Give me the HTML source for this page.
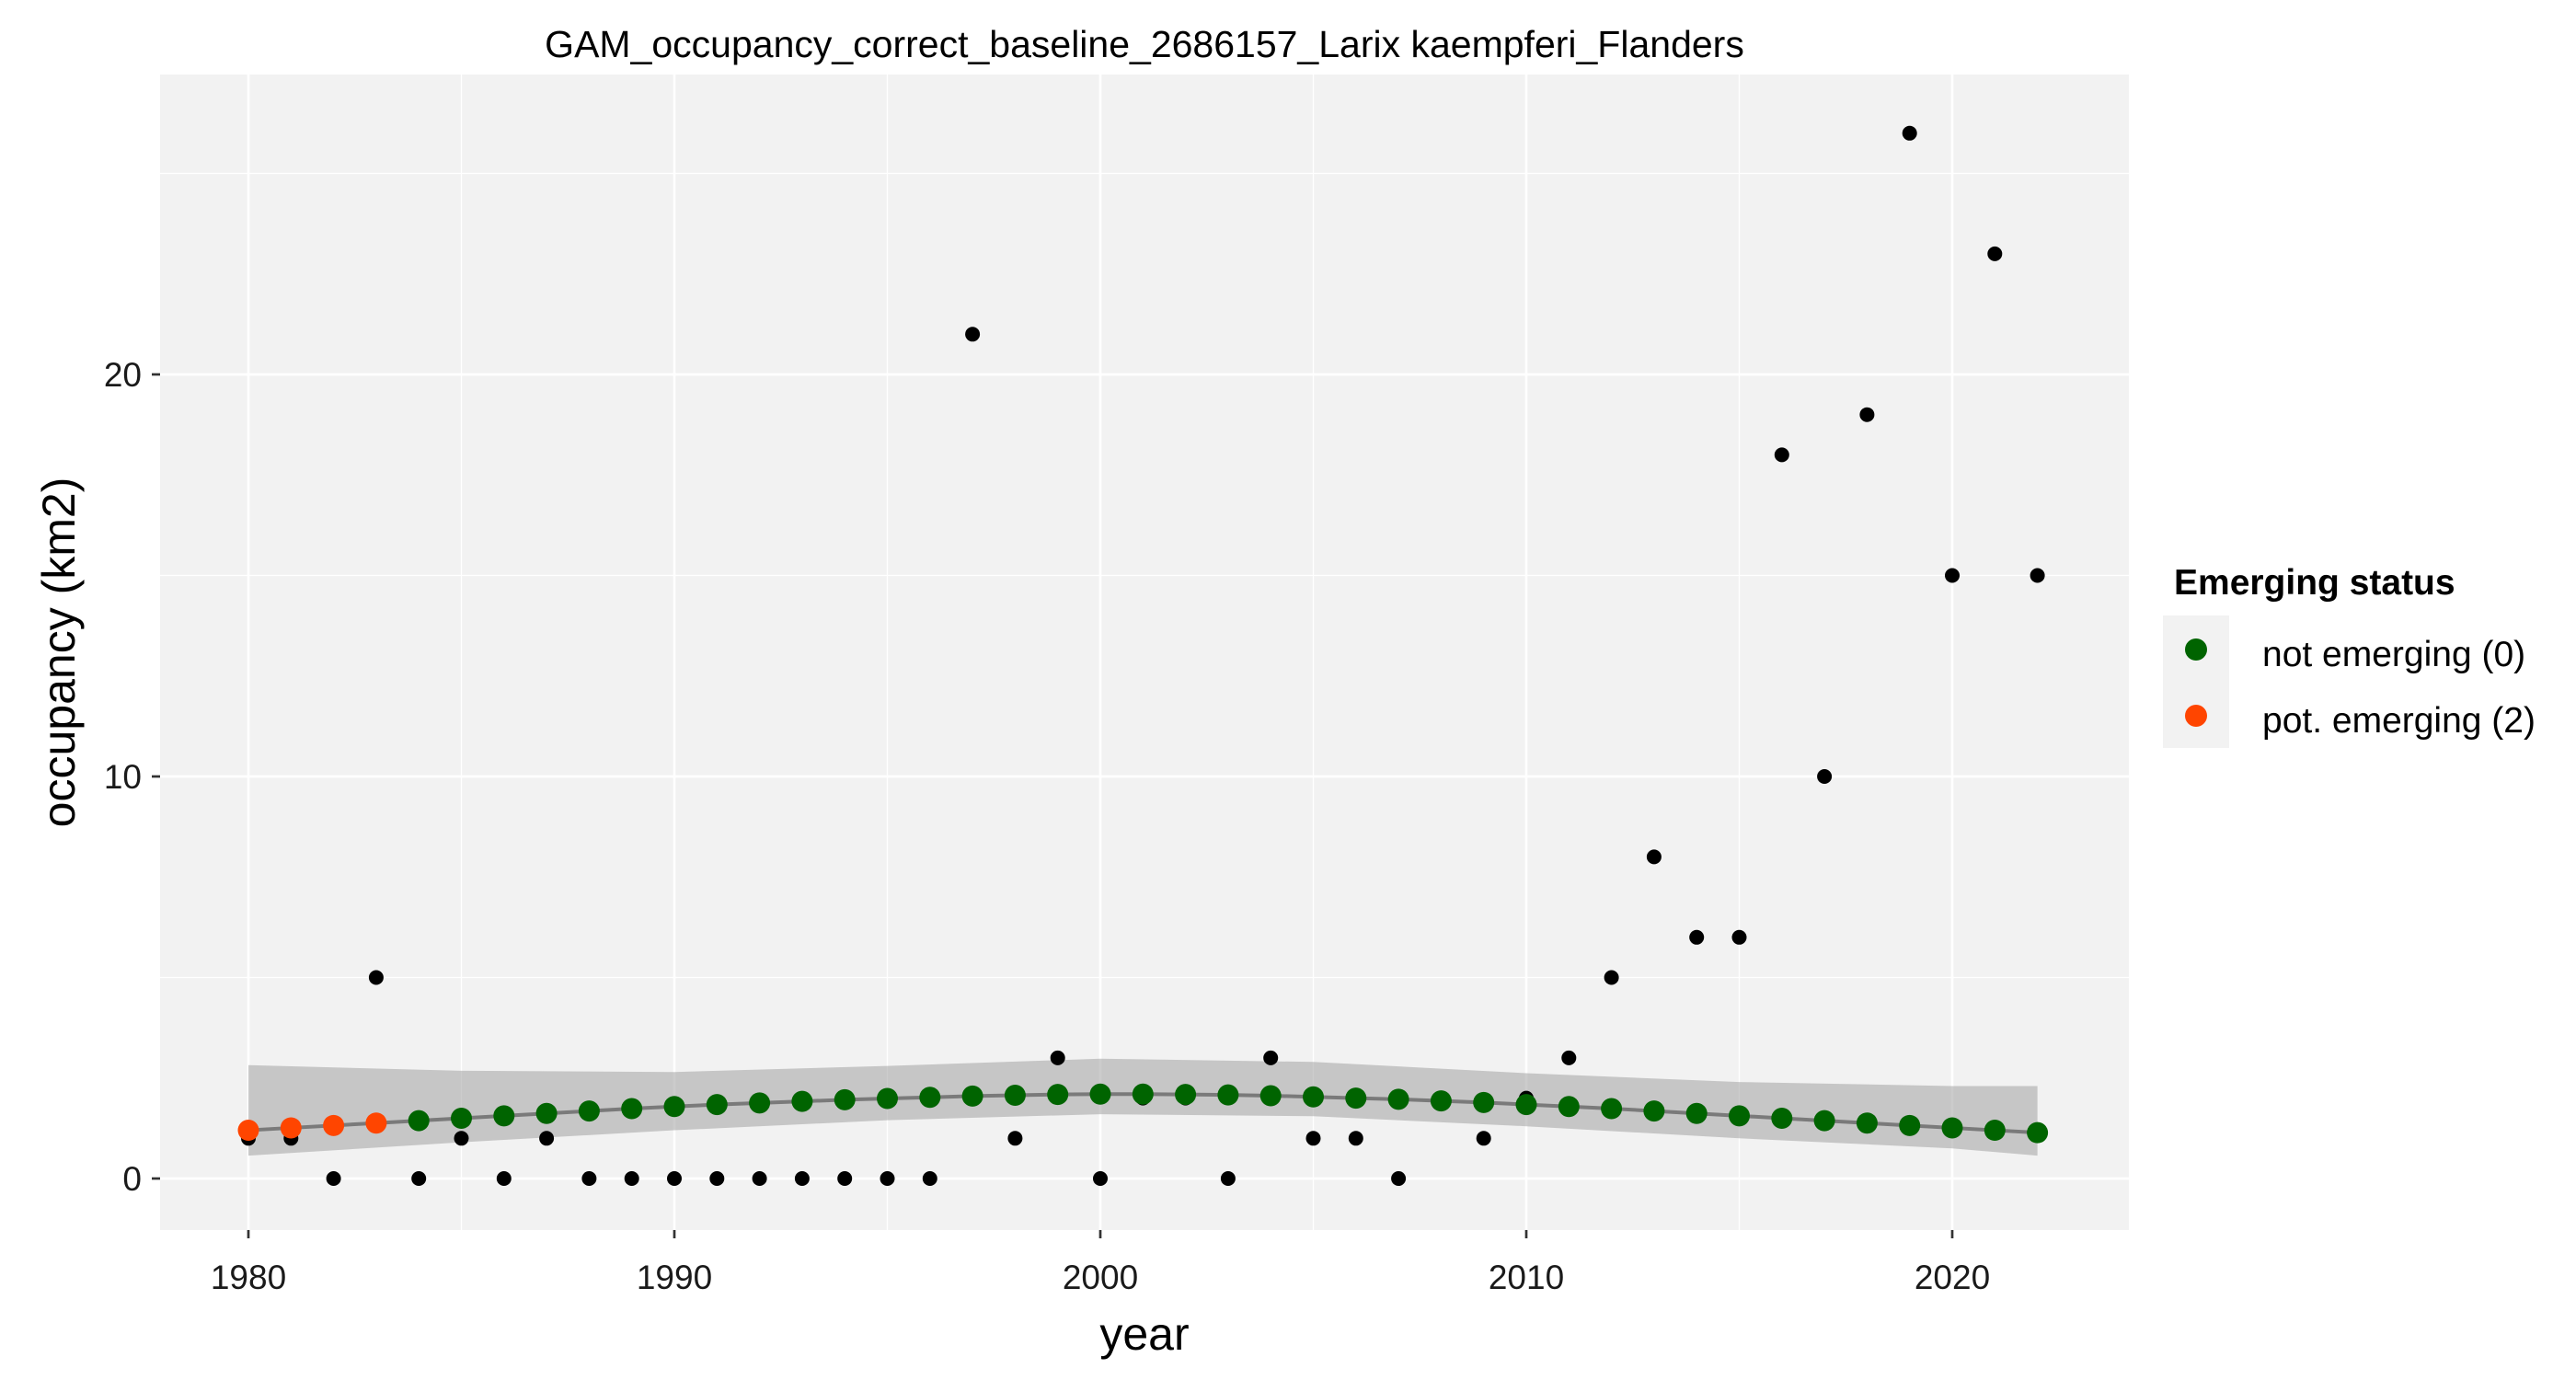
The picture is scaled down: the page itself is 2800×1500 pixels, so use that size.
<!DOCTYPE html>
<html><head><meta charset="utf-8"><style>
html,body{margin:0;padding:0;background:#fff}
svg{display:block;font-family:"Liberation Sans",Arial,sans-serif}
</style></head><body>
<svg id="chart" width="2800" height="1500" viewBox="0 0 2800 1500">
<text x="1244" y="62" font-size="41" text-anchor="middle" fill="#000">GAM_occupancy_correct_baseline_2686157_Larix kaempferi_Flanders</text>
<rect x="174" y="81" width="2140" height="1256" fill="#f2f2f2"/>
<g id="grid"></g>
<g id="ribbon"></g>
<g id="obs"></g>
<g id="fit"></g>
<g id="axes"></g>
<text x="1244" y="1467" font-size="50" text-anchor="middle">year</text>
<text transform="translate(81,709) rotate(-90)" font-size="50" text-anchor="middle">occupancy (km2)</text>
<g>
<text x="2363" y="646" font-size="39" font-weight="bold">Emerging status</text>
<rect x="2351" y="669" width="72" height="144" fill="#f2f2f2"/>
<circle cx="2387" cy="706" r="12" fill="#006400"/>
<circle cx="2387" cy="778" r="12" fill="#ff4500"/>
<text x="2459" y="724" font-size="39">not emerging (0)</text>
<text x="2459" y="796" font-size="39">pot. emerging (2)</text>
</g>
</svg>
<script>
const years = [1980,1981,1982,1983,1984,1985,1986,1987,1988,1989,1990,1991,1992,1993,1994,1995,1996,1997,1998,1999,2000,2001,2002,2003,2004,2005,2006,2007,2008,2009,2010,2011,2012,2013,2014,2015,2016,2017,2018,2019,2020,2021,2022];
const observed = [1,1,0,5,0,1,0,1,0,0,0,0,0,0,0,0,0,21,1,3,0,2,2,0,3,1,1,0,2,1,2,3,5,8,6,6,18,10,19,26,15,23,15];
const fitted = [1.20,1.26,1.32,1.38,1.44,1.50,1.56,1.62,1.68,1.74,1.79,1.84,1.88,1.92,1.96,1.99,2.02,2.05,2.07,2.09,2.10,2.10,2.09,2.08,2.06,2.03,2.00,1.97,1.93,1.89,1.84,1.79,1.74,1.68,1.62,1.56,1.50,1.44,1.38,1.32,1.26,1.20,1.14];
const status = [2,2,2,2,0,0,0,0,0,0,0,0,0,0,0,0,0,0,0,0,0,0,0,0,0,0,0,0,0,0,0,0,0,0,0,0,0,0,0,0,0,0,0];
const ribbonYears = [1980,1985,1990,1995,2000,2005,2010,2015,2020,2022];
const ribbonUpper = [2.82,2.68,2.65,2.80,2.98,2.90,2.62,2.40,2.30,2.30];
const ribbonLower = [0.57,0.90,1.20,1.45,1.60,1.55,1.30,1.00,0.75,0.57];
const xTicks = [1980,1990,2000,2010,2020];
const xMinor = [1985,1995,2005,2015];
const yTicks = [0,10,20];
const yMinor = [5,15,25];

const NS="http://www.w3.org/2000/svg";
const X0=174,X1=2314,Y0=81,Y1=1337;
function xs(v){return 270+(v-1980)*46.3;}
function ys(v){return 1281-v*43.7;}
function mk(tag,attrs,parent){const e=document.createElementNS(NS,tag);for(const k in attrs)e.setAttribute(k,attrs[k]);parent.appendChild(e);return e;}
const grid=document.getElementById('grid');
yMinor.forEach(v=>{const l=mk('line',{x1:X0,x2:X1,y1:ys(v),y2:ys(v),stroke:'#fff','stroke-width':1.3},grid);

});
xMinor.forEach(v=>{const l=mk('line',{x1:xs(v),x2:xs(v),y1:Y0,y2:Y1,stroke:'#fff','stroke-width':1.3},grid);

});
yTicks.forEach(v=>{const l=mk('line',{x1:X0,x2:X1,y1:ys(v),y2:ys(v),stroke:'#fff','stroke-width':2.7},grid);

});
xTicks.forEach(v=>{const l=mk('line',{x1:xs(v),x2:xs(v),y1:Y0,y2:Y1,stroke:'#fff','stroke-width':2.7},grid);

});
const axes=document.getElementById('axes');
xTicks.forEach(v=>{const t=mk('line',{x1:xs(v),x2:xs(v),y1:Y1,y2:Y1+9,stroke:'#333','stroke-width':2.7},axes);


const tx=mk('text',{x:xs(v),y:Y1+64,'font-size':37,'text-anchor':'middle',fill:'#1a1a1a'},axes);tx.textContent=v;

});
yTicks.forEach(v=>{const t=mk('line',{x1:X0-9,x2:X0,y1:ys(v),y2:ys(v),stroke:'#333','stroke-width':2.7},axes);


const tx=mk('text',{x:X0-20,y:ys(v)+13,'font-size':37,'text-anchor':'end',fill:'#1a1a1a'},axes);tx.textContent=v;

});
const rib=document.getElementById('ribbon');
let pts=ribbonYears.map((y,i)=>xs(y)+','+ys(ribbonUpper[i]));
for(let i=ribbonYears.length-1;i>=0;i--)pts.push(xs(ribbonYears[i])+','+ys(ribbonLower[i]));
const poly=mk('polygon',{points:pts.join(' '),fill:'#999','fill-opacity':0.5},rib);


const obs=document.getElementById('obs');
years.forEach((y,i)=>{const c=mk('circle',{cx:xs(y),cy:ys(observed[i]),r:8,fill:'#000'},obs);

});
const fit=document.getElementById('fit');
const pl=mk('polyline',{points:years.map((y,i)=>xs(y)+','+ys(fitted[i])).join(' '),fill:'none',stroke:'#666','stroke-width':4,'stroke-opacity':0.8},rib);


years.forEach((y,i)=>{const c=mk('circle',{cx:xs(y),cy:ys(fitted[i]),r:11.5,fill:status[i]===2?'#ff4500':'#006400'},fit);

});
</script>
</body></html>
